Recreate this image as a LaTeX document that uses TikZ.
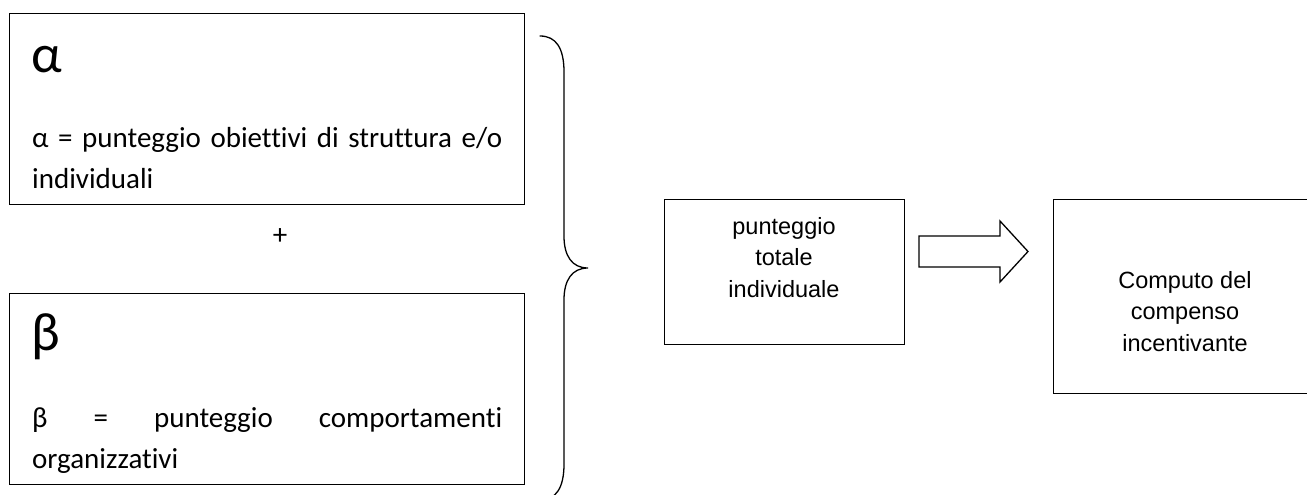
\documentclass[tikz,border=0pt]{standalone}
\usepackage{fontspec}
\setmainfont{Carlito}[Ligatures=NoCommon]
\newfontfamily\arialfont{Liberation Sans}
\newcommand{\bodytext}{\fontsize{29}{41}\selectfont}
\newcommand{\bigtext}{\fontsize{54}{60}\selectfont}
\newcommand{\arialtext}{\arialfont\fontsize{23.5}{31.5}\selectfont}
\begin{document}
\begin{tikzpicture}[x=1pt,y=-1pt,
  box/.style={draw=black, line width=1.3pt, rectangle, inner sep=0pt, anchor=north west},
  txt/.style={inner sep=0pt, anchor=base west},
  ctxt/.style={inner sep=0pt, anchor=base},
  brace/.style={draw=black, line width=1.3pt, line cap=round},
  blockarrow/.style={draw=black, line width=1.3pt, line join=miter}
]
\fill[white] (0,0) rectangle (1307,495);
\clip (0,0) rectangle (1307,495);
\setlength{\tabcolsep}{0pt}
% left boxes
\node[box, minimum width=515pt, minimum height=191pt] (A) at (9,13) {};
\node[box, minimum width=515pt, minimum height=191pt] (B) at (9,293) {};
\node[txt] (Ag) at (31,73) {\bigtext α};
\node[txt] (At) at (32,147) {\bodytext\begin{tabular}[t]{@{}l@{}}\makebox[470pt][s]{α = punteggio obiettivi di struttura e/o}\\ individuali\end{tabular}};
\node[txt] (Bg) at (31,350) {\bigtext β};
\node[txt] (Bt) at (32,427) {\bodytext\begin{tabular}[t]{@{}l@{}}\makebox[470pt][l]{β\hfill =\hfill punteggio\hfill comportamenti}\\ organizzativi\end{tabular}};
\node[inner sep=0pt] (plus) at (280,237) {\bodytext +};
% brace
\coordinate (bt) at (540,36);
\coordinate (tip) at (588,268);
\coordinate (bb) at (540,500);
\draw[brace] (bt) .. controls (556,36) and (564,48) .. (564,72) -- (564,236)
  .. controls (564,256) and (572,268) .. (tip)
  .. controls (572,268) and (564,280) .. (564,300) -- (564,464)
  .. controls (564,488) and (556,500) .. (bb);
% right boxes
\node[box, minimum width=240pt, minimum height=145pt] (C) at (664,199) {};
\node[ctxt] (Ct) at (784,234) {\arialtext\begin{tabular}[t]{c}punteggio\\ totale\\ individuale\end{tabular}};
\node[box, minimum width=280pt, minimum height=194pt] (D) at (1053,199) {};
\node[ctxt] (Dt) at (1185,288) {\arialtext\begin{tabular}[t]{c}Computo del\\ compenso\\ incentivante\end{tabular}};
% block arrow
\coordinate (ar) at (919,251.5);
\draw[blockarrow] (ar) ++(0,-15.5) -- ++(81,0) -- ++(0,-15) -- ++(28,30.5) -- ++(-28,30.5) -- ++(0,-15) -- ++(-81,0) -- cycle;
\end{tikzpicture}
\end{document}
